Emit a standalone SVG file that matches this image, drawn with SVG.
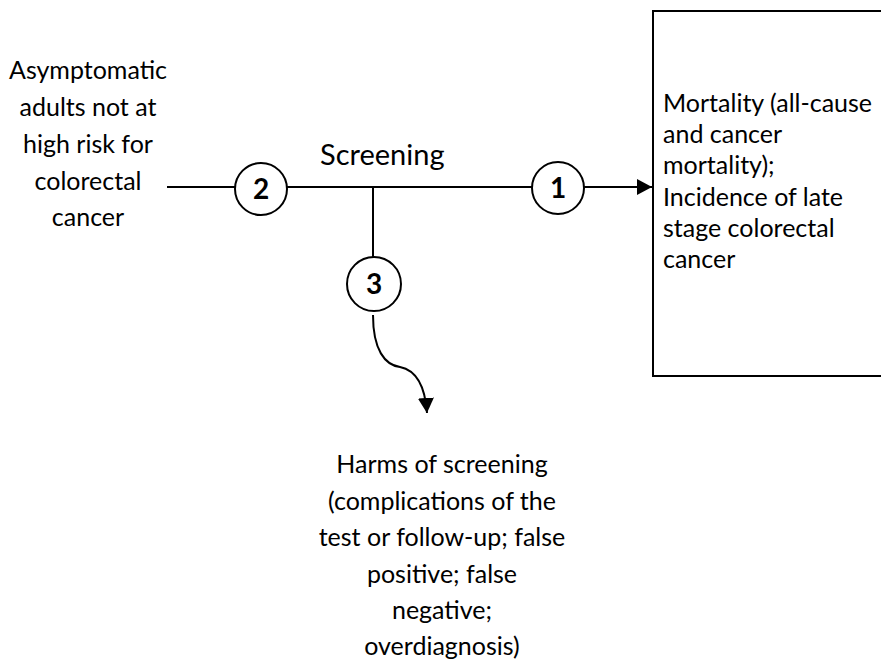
<svg xmlns="http://www.w3.org/2000/svg" width="881" height="662" viewBox="0 0 881 662">
<style>
  text { font-family: Lato, "Liberation Sans", sans-serif; fill: #000; }
  .t { font-size: 25px; }
  .num { font-size: 28px; font-weight: bold; text-anchor: middle; }
  .ln { stroke: #000; stroke-width: 2; fill: none; }
  .c { stroke: #000; stroke-width: 2; fill: #fff; }
</style>
<defs>
  <marker id="ah" viewBox="0 0 15 16" refX="15" refY="8" markerWidth="15" markerHeight="16" markerUnits="userSpaceOnUse" orient="auto">
    <path d="M0,0 L15,8 L0,16 Z" fill="#000"/>
  </marker>
</defs>
<rect width="881" height="662" fill="#fff"/>
<g id="connectors">
  <line class="ln" x1="167" y1="187" x2="235" y2="187"/>
  <line class="ln" x1="287" y1="187" x2="532" y2="187"/>
  <line class="ln" x1="584" y1="187" x2="652" y2="187" marker-end="url(#ah)"/>
  <line class="ln" x1="373" y1="187" x2="373" y2="257"/>
  <path class="ln" d="M373,315 C373,350 385,365 400,367 C415,370 425,385 427,413" marker-end="url(#ah)"/>
</g>
<g id="population">
  <text class="t" text-anchor="middle" x="88" y="79">Asymptomatic</text>
  <text class="t" text-anchor="middle" x="88" y="116">adults not at</text>
  <text class="t" text-anchor="middle" x="88" y="153">high risk for</text>
  <text class="t" text-anchor="middle" x="88" y="190">colorectal</text>
  <text class="t" text-anchor="middle" x="88" y="226">cancer</text>
</g>
<g id="screening-label">
  <text x="320" y="165" style="font-size:29px">Screening</text>
</g>
<g id="kq2">
  <circle class="c" cx="261" cy="189" r="26"/>
  <text class="num" x="261" y="199">2</text>
</g>
<g id="kq1">
  <circle class="c" cx="558" cy="188" r="26"/>
  <text class="num" x="558" y="198">1</text>
</g>
<g id="kq3">
  <circle class="c" cx="374" cy="284" r="27"/>
  <text class="num" x="374" y="294">3</text>
</g>
<g id="outcomes">
  <rect x="653" y="11" width="240" height="365" fill="none" stroke="#000" stroke-width="2"/>
  <text class="t" x="663" y="112">Mortality (all-cause</text>
  <text class="t" x="663" y="143">and cancer</text>
  <text class="t" x="663" y="174">mortality);</text>
  <text class="t" x="663" y="206">Incidence of late</text>
  <text class="t" x="663" y="237">stage colorectal</text>
  <text class="t" x="663" y="268">cancer</text>
</g>
<g id="harms">
  <text class="t" text-anchor="middle" x="442" y="473">Harms of screening</text>
  <text class="t" text-anchor="middle" x="442" y="510">(complications of the</text>
  <text class="t" text-anchor="middle" x="442" y="546">test or follow-up; false</text>
  <text class="t" text-anchor="middle" x="442" y="583">positive; false</text>
  <text class="t" text-anchor="middle" x="442" y="619">negative;</text>
  <text class="t" text-anchor="middle" x="442" y="655">overdiagnosis)</text>
</g>
</svg>
